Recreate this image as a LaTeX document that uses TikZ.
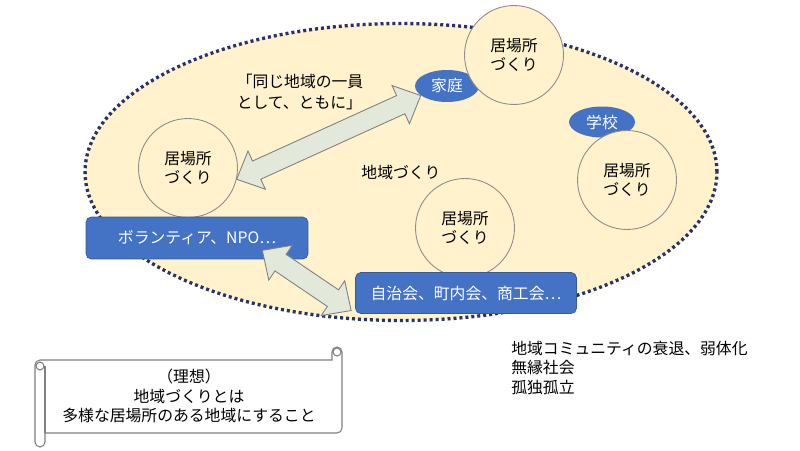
\documentclass[tikz,border=0pt]{standalone}
\usepackage{fontspec}
\setmainfont{Noto Sans CJK JP}
\usetikzlibrary{calc, shapes.geometric, positioning}
\definecolor{cream}{RGB}{255,242,204}
\definecolor{navy}{RGB}{40,50,100}
\definecolor{boxblue}{RGB}{68,114,196}
\definecolor{boxedge}{RGB}{52,90,160}
\definecolor{sage}{RGB}{226,233,218}
\tikzset{
  place/.style={circle, draw=gray!90, fill=cream, line width=0.5pt, minimum size=1.98cm, inner sep=0pt, align=center},
  group/.style={rectangle, rounded corners=3pt, draw=boxedge, fill=boxblue, text=white, inner sep=0pt},
  tag/.style={ellipse, fill=boxblue, text=white, inner sep=0pt},
  link/.style={draw=gray, fill=sage, line width=0.5pt, line join=miter},
  scroll/.style={draw=gray, line width=0.6pt}
}

\begin{document}
\begin{tikzpicture}[x=0.02cm, y=0.02cm, font=\fontsize{9}{11}\selectfont]
  \useasboundingbox (0,0) rectangle (800,450);
  \node[ellipse, draw=navy, fill=cream, line width=1.9pt, dash pattern=on 1.7pt off 1.7pt, minimum width=12.64cm, minimum height=5.94cm, inner sep=0pt] (area) at (401,278) {地域づくり};
  \node[tag, minimum width=1.28cm, minimum height=0.64cm] (home) at (447,364) {家庭};
  \node[tag, minimum width=1.32cm, minimum height=0.62cm] (school) at (602,328) {学校};
  \node[place] (tc) at (514,395) {居場所\\づくり};
  \node[place] (lc) at (188,282) {居場所\\づくり};
  \node[place] (rc) at (627,270) {居場所\\づくり};
  \node[place] (mc) at (465,222) {居場所\\づくり};
  \node[group, minimum width=4.44cm, minimum height=0.84cm] (vol) at (197,212) {ボランティア、NPO⋯};
  \node[group, minimum width=4.42cm, minimum height=0.82cm] (jc) at (466,157) {自治会、町内会、商工会⋯};
  \coordinate (a1) at (lc.-13);
  \coordinate (b1) at (home.200);
  \coordinate (a2) at ([xshift=-0.92cm, yshift=0.18cm]vol.south east);
  \coordinate (b2) at ([xshift=-0.08cm, yshift=-0.35cm]jc.west);
  \foreach \s/\e in {a1/b1, a2/b2}
    \draw[link] (\s) -- ($(\s)!0.44cm!(\e)!0.42cm!90:(\e)$) -- ($(\s)!0.44cm!(\e)!0.2cm!90:(\e)$)
      -- ($(\e)!0.44cm!(\s)!0.2cm!-90:(\s)$) -- ($(\e)!0.44cm!(\s)!0.42cm!-90:(\s)$) -- (\e)
      -- ($(\e)!0.44cm!(\s)!0.42cm!90:(\s)$) -- ($(\e)!0.44cm!(\s)!0.2cm!90:(\s)$)
      -- ($(\s)!0.44cm!(\e)!0.2cm!-90:(\e)$) -- ($(\s)!0.44cm!(\e)!0.42cm!-90:(\e)$) -- cycle;
  \node[align=left, font=\fontsize{9}{12}\selectfont] (motto) at (300,358) {「同じ地域の一員\\として、ともに」};
  \node[anchor=north west, align=left, inner sep=0pt] (issue) at (511,109) {地域コミュニティの衰退、弱体化\\無縁社会\\孤独孤立};
  \draw[scroll, fill=white] (45,17) -- (337,17) arc (-90:0:5) -- (342,98) arc (0:180:5) -- (332,90) -- (40,90) arc (90:180:5) -- (35,8) arc (180:360:5) -- cycle;
  \draw[scroll] (45,17) -- (45,84);
  \draw[scroll] (40,84) circle [radius=4];
  \draw[scroll] (337,98) circle [radius=4];
  \node[align=center] (ideal) at (189,54) {（理想）\\地域づくりとは\\多様な居場所のある地域にすること};
\end{tikzpicture}
\end{document}
